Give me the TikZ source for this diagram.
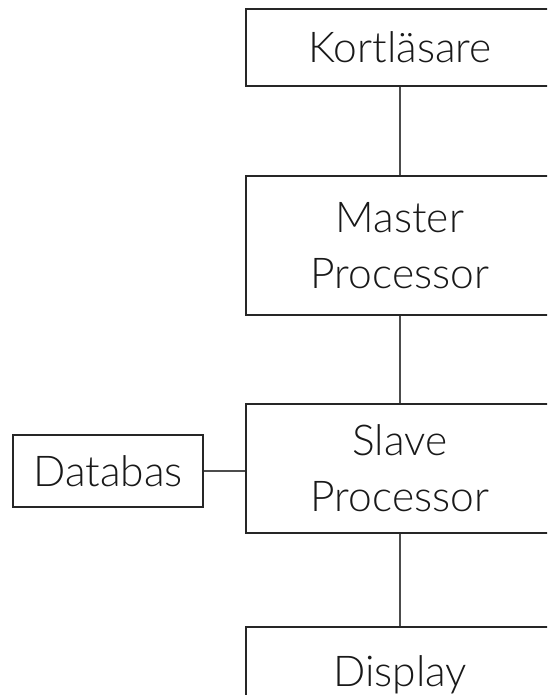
\documentclass[tikz,border=0pt]{standalone}
\usepackage{fontspec}
\setmainfont{Lato}[UprightFont=* Light]
\begin{document}
\begin{tikzpicture}[x=1pt,y=-1pt,
  box/.style={draw=black!85,line width=1.3pt,fill=white,align=center,inner sep=0pt,
    font=\fontsize{42.5}{56}\selectfont,text=black!90},
  link/.style={draw=black!70,line width=1.2pt}]
\useasboundingbox (0,0) rectangle (547,695);
\clip (0,0) rectangle (547,695);
\node[box,minimum width=308pt,minimum height=77pt] (k) at (400,47.5) {Kortläsare};
\node[box,minimum width=308pt,minimum height=139pt] (m) at (400,245.5) {Master\\Processor};
\node[box,minimum width=308pt,minimum height=129pt] (s) at (400,468.5) {Slave\\Processor};
\node[box,minimum width=308pt,minimum height=96pt] (d) at (400,675) {Display};
\node[box,minimum width=190pt,minimum height=72pt] (db) at (108,471) {Databas};
\draw[link] (k.south) -- (m.north);
\draw[link] (m.south) -- (s.north);
\draw[link] (s.south) -- (d.north);
\draw[link] (db.east) -- (s.west |- db.east);
\end{tikzpicture}
\end{document}
